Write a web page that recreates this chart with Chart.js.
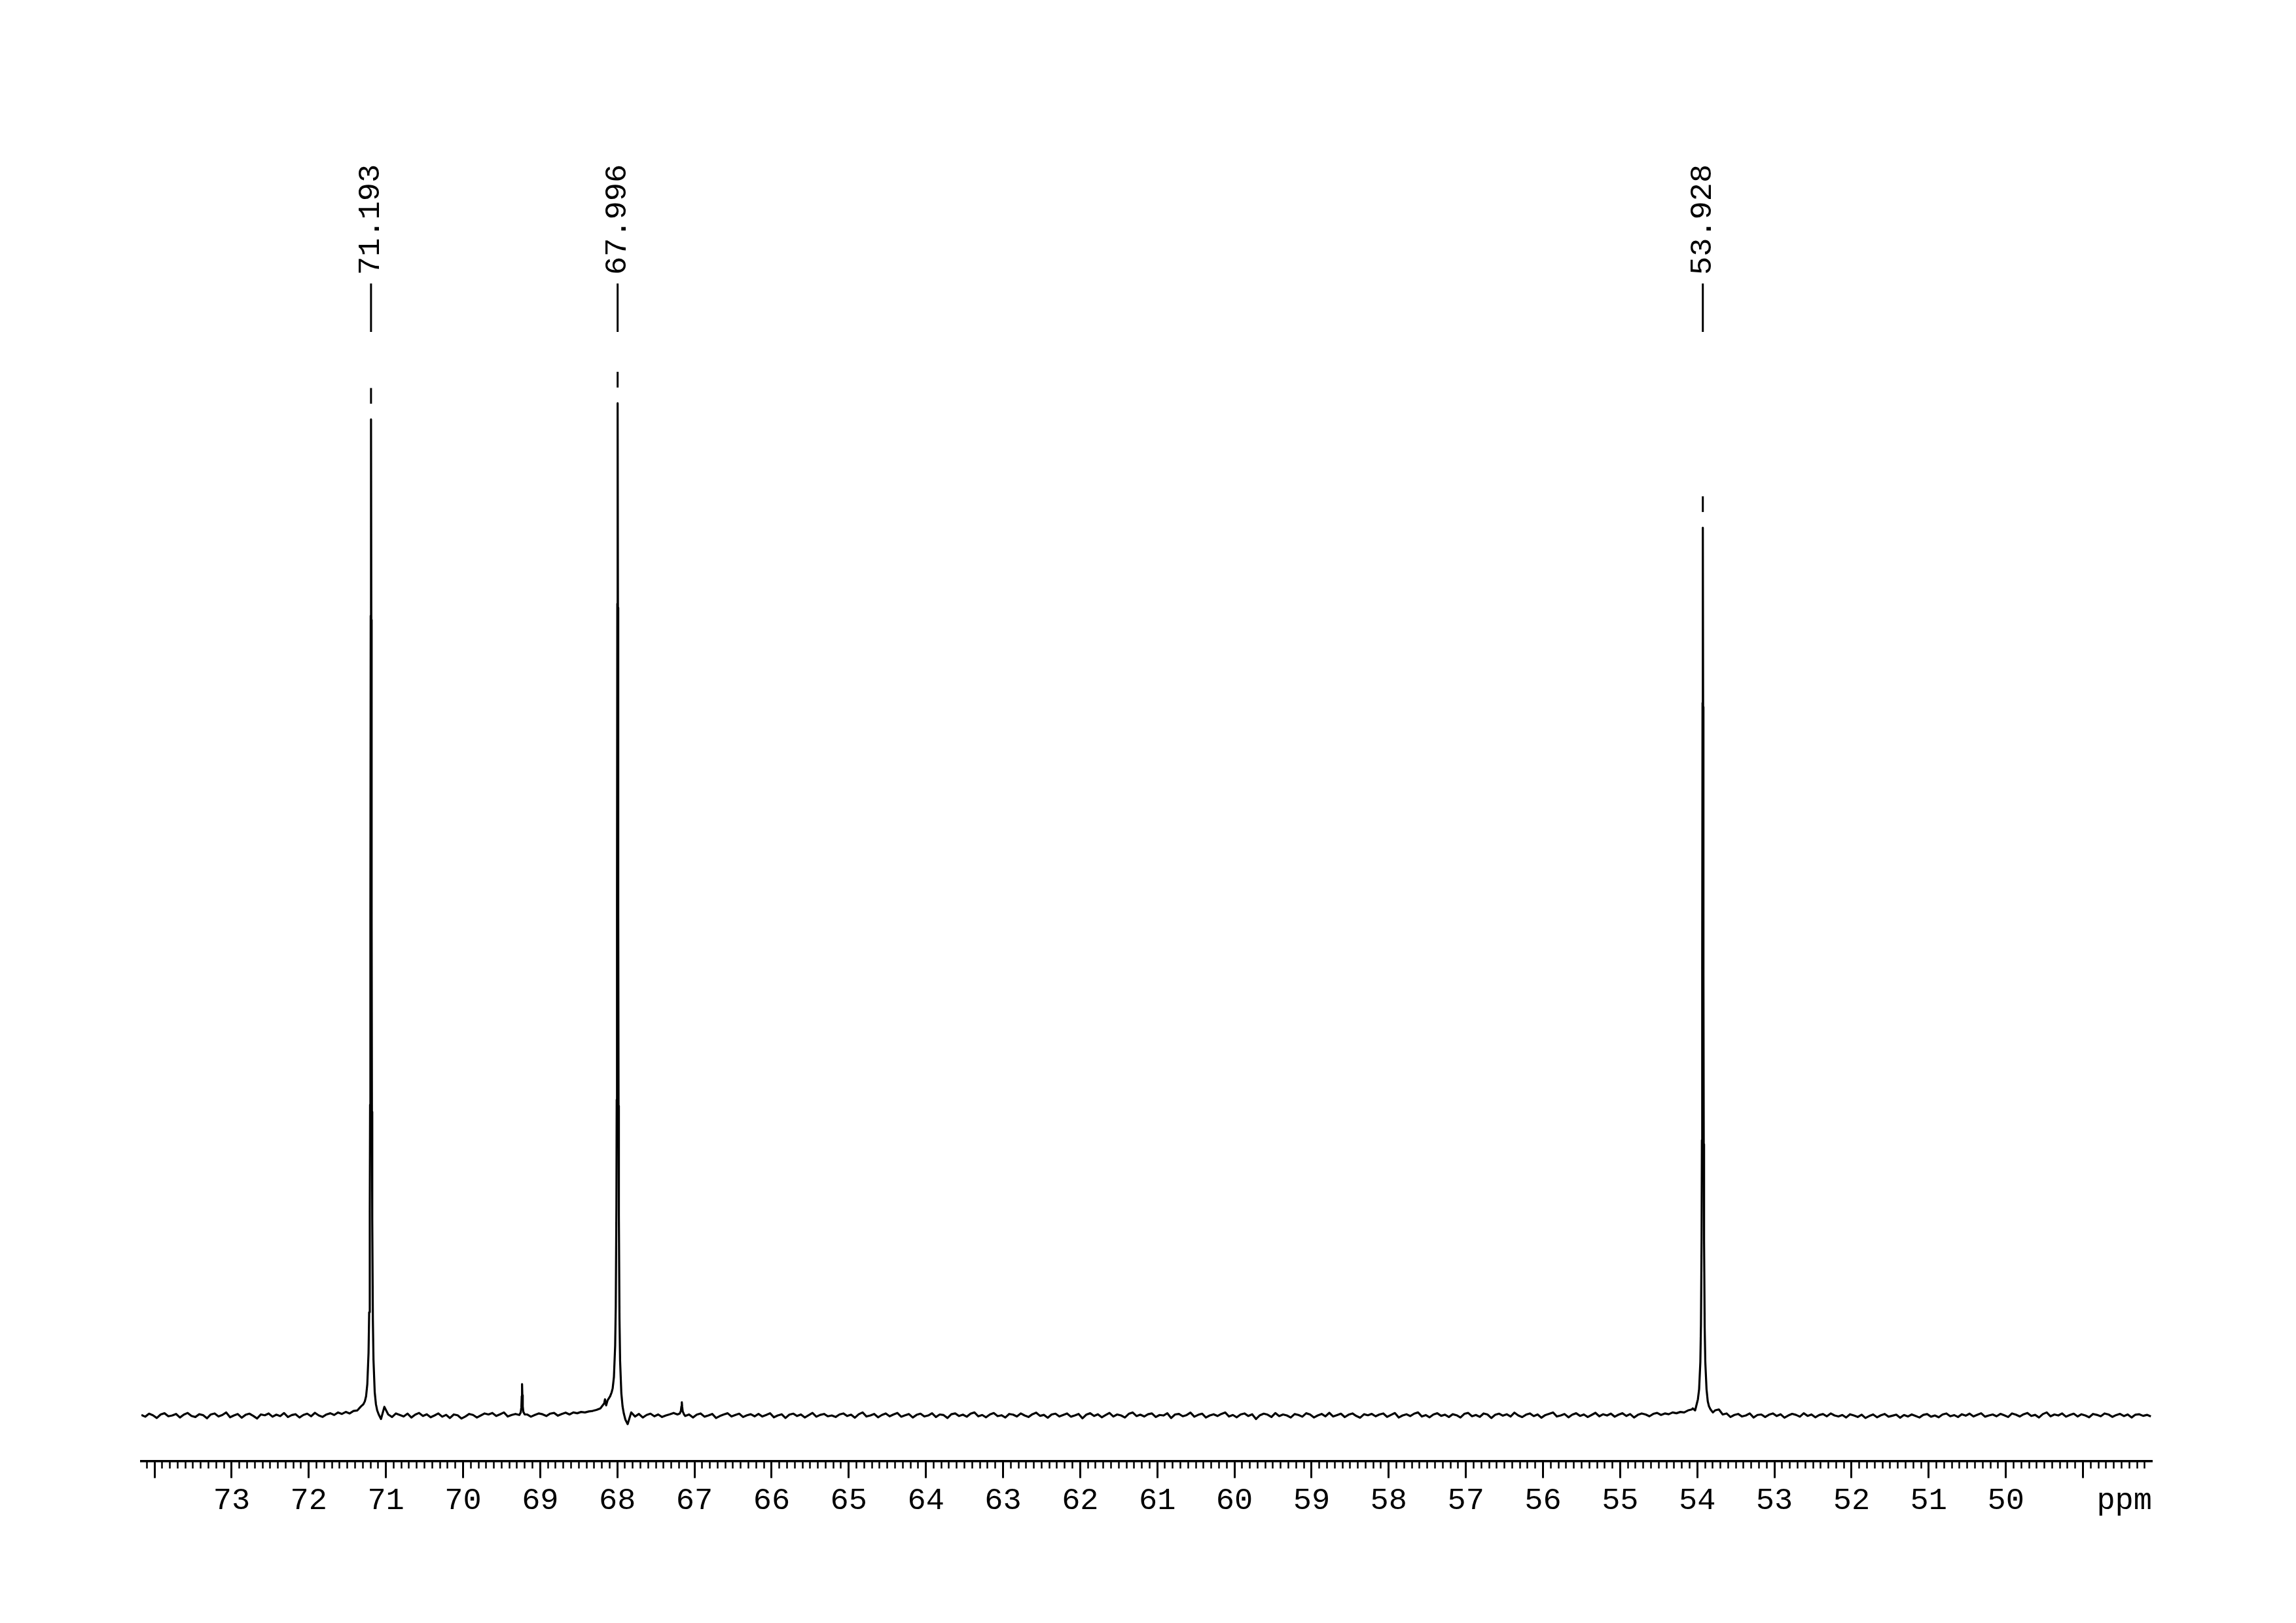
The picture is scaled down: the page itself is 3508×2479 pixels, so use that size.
<!DOCTYPE html>
<html>
<head>
<meta charset="utf-8">
<script src="https://cdn.jsdelivr.net/npm/chart.js@4.4.0/dist/chart.umd.min.js"></script>
<style>
  html, body { margin: 0; padding: 0; background: #fff; }
  canvas { display: block; }
</style>
</head>
<body>
<canvas id="spectrum" width="3508" height="2479"></canvas>
<script>
// axis range (ppm, reversed) and intensity range (67.996 peak = 100)
var X_MAX = 74.17, X_MIN = 48.105;
var Y_MIN = -4.5, Y_MAX = 126.9;

var majorTicks = [49, 50, 51, 52, 53, 54, 55, 56, 57, 58, 59, 60, 61, 62, 63, 64, 65, 66, 67, 68, 69, 70, 71, 72, 73, 74];
var tickLabels = ['50', '51', '52', '53', '54', '55', '56', '57', '58', '59', '60', '61', '62', '63', '64', '65', '66', '67', '68', '69', '70', '71', '72', '73'];
var peakLabels = [71.193, 67.996, 53.928];

// baseline read every 0.05 ppm, starting at 74.17 going upfield
var baseStart = 74.17, baseStep = 0.05;
var baseline = [
  0.05, -0.12, 0.18, 0.02, -0.25, 0.1, 0.22, -0.08, 0.0, 0.15, -0.2, 0.08, 0.25, -0.05, -0.15, 0.12, 0.03, -0.28, 0.1, 0.2,
  -0.1, 0.05, 0.3, -0.18, 0.0, 0.14, -0.22, 0.06, 0.18, -0.04, -0.3, 0.1, 0.02, 0.2, -0.12, 0.08, -0.06, 0.24, -0.15, 0.04,
  0.12, -0.2, 0.05, 0.18, -0.08, 0.26, 0.0, -0.14, 0.1, 0.22, 0.05, 0.3, 0.15, 0.35, 0.2, 0.45, 0.5, 0.9, 1.4, 4.5,
  14.0, 1.2, -0.3, 0.85, 0.1, -0.15, 0.2, 0.05, -0.1, 0.18, -0.2, 0.08, 0.25, -0.05, 0.12, -0.18, 0.0, 0.2, -0.12, 0.06,
  -0.25, 0.1, 0.02, -0.3, -0.1, 0.15, 0.05, -0.2, 0.0, 0.2, 0.1, 0.25, -0.05, 0.12, 0.3, -0.1, 0.05, 0.15, 0.1, 2.4,
  0.1, -0.12, 0.05, 0.2, 0.12, -0.05, 0.18, 0.25, -0.02, 0.15, 0.28, 0.1, 0.3, 0.22, 0.35, 0.3, 0.4, 0.45, 0.55, 0.7,
  1.2, 1.6, 2.3, 10.5, 9.0, 0.2, -0.8, 0.3, -0.1, 0.15, -0.2, 0.05, 0.18, -0.08, 0.1, -0.15, 0.0, 0.12, 0.25, 0.1,
  0.8, -0.05, 0.1, -0.2, 0.08, 0.2, -0.12, 0.0, 0.15, -0.25, -0.05, 0.1, 0.22, -0.1, 0.05, 0.18, -0.15, 0.02, 0.12, -0.08,
  0.15, -0.1, 0.05, 0.22, -0.18, 0.0, 0.12, -0.25, 0.08, 0.18, -0.05, 0.1, -0.2, 0.02, 0.25, -0.12, 0.06, 0.15, -0.08, 0.0,
  -0.15, 0.1, 0.2, -0.05, 0.08, -0.22, 0.12, 0.3, -0.1, 0.0, 0.15, -0.18, 0.05, 0.2, -0.08, 0.1, 0.25, -0.12, 0.02, 0.14,
  -0.2, 0.06, 0.18, -0.1, 0.0, 0.22, -0.15, 0.1, 0.04, -0.25, 0.12, 0.2, -0.05, 0.08, -0.12, 0.18, 0.3, -0.08, 0.05, -0.18,
  0.1, 0.24, -0.06, 0.02, -0.2, 0.15, 0.08, -0.1, 0.2, 0.0, -0.15, 0.12, 0.28, -0.04, 0.06, -0.22, 0.1, 0.18, -0.1, 0.05,
  0.2, -0.12, 0.0, 0.15, -0.28, 0.08, 0.22, -0.05, 0.12, -0.18, 0.04, 0.25, -0.1, 0.1, 0.0, -0.2, 0.16, 0.3, -0.06, 0.08,
  -0.1, 0.12, 0.2, -0.15, 0.05, 0.0, 0.22, -0.25, 0.1, 0.16, -0.08, 0.04, 0.28, -0.12, 0.06, 0.18, -0.2, 0.0, 0.12, -0.05,
  0.15, 0.3, -0.1, 0.05, -0.18, 0.1, 0.2, -0.05, 0.12, -0.35, 0.02, 0.18, 0.08, -0.15, 0.24, -0.06, 0.1, 0.0, -0.2, 0.14,
  0.05, -0.12, 0.22, 0.1, -0.2, 0.0, 0.15, -0.08, 0.26, -0.1, 0.04, 0.18, -0.16, 0.08, 0.2, -0.05, -0.22, 0.12, 0.02, 0.16,
  -0.08, 0.1, 0.2, -0.14, 0.06, 0.24, -0.2, 0.0, 0.12, -0.06, 0.18, 0.3, -0.1, 0.04, -0.18, 0.1, 0.22, -0.04, 0.08, -0.15,
  0.12, 0.02, -0.2, 0.16, 0.25, -0.08, 0.05, -0.14, 0.2, 0.1, -0.25, 0.06, 0.18, -0.02, 0.12, -0.1, 0.28, 0.0, -0.16, 0.08,
  0.2, -0.06, 0.1, -0.22, 0.04, 0.16, 0.3, -0.1, 0.0, 0.14, -0.18, 0.08, 0.22, -0.04, 0.1, -0.15, 0.05, 0.26, -0.08, 0.12,
  0.0, 0.18, -0.12, 0.08, 0.22, -0.05, 0.14, -0.2, 0.06, 0.2, 0.1, -0.08, 0.16, 0.25, 0.05, 0.2, 0.12, 0.3, 0.22, 0.35,
  0.3, 0.5, 0.6, 0.7, 2.3, 43.0, 1.9, 0.7, 0.5, 0.6, 0.1, 0.2, -0.15, 0.05, 0.15, -0.1, 0.0, 0.2, -0.2, 0.05,
  0.1, -0.15, 0.08, 0.2, -0.05, 0.12, -0.22, 0.0, 0.16, 0.06, -0.12, 0.22, -0.04, 0.1, -0.18, 0.04, 0.14, -0.08, 0.2, 0.0,
  -0.1, 0.05, -0.2, 0.12, 0.0, -0.15, 0.08, -0.25, -0.05, 0.1, -0.18, 0.02, 0.15, -0.12, -0.02, 0.08, -0.22, 0.05, -0.1, 0.1,
  -0.05, -0.2, 0.06, 0.14, -0.12, 0.0, -0.18, 0.1, 0.2, -0.08, 0.04, -0.15, 0.12, -0.02, 0.18, -0.1, 0.06, 0.22, -0.12, 0.0,
  0.1, -0.08, 0.16, 0.02, -0.15, 0.2, 0.08, -0.1, 0.12, 0.25, -0.05, 0.06, -0.2, 0.14, 0.3, -0.08, 0.1, 0.0, 0.2, -0.12,
  0.05, 0.18, -0.1, 0.12, 0.0, -0.18, 0.15, 0.06, -0.08, 0.2, 0.1, -0.14, 0.04, 0.16, -0.06, 0.1, -0.2, 0.08, 0.12, -0.04,
  0.06, -0.1
];

// finer reads around each line: [ppm, intensity]
var peak71 = [[71.323, 0.9], [71.293, 1.1], [71.273, 1.4], [71.257, 1.9], [71.241, 3.1], [71.225, 6.2], [71.217, 10.2],
  [71.209, 20.1], [71.205, 30.7], [71.201, 49.6], [71.197, 79.0], [71.193, 98.4], [71.189, 78.6], [71.185, 49.0],
  [71.181, 30.0], [71.177, 19.4], [71.169, 9.5], [71.161, 5.5], [71.145, 2.3], [71.129, 1.1], [71.113, 0.5],
  [71.093, 0.1], [71.063, -0.35]];
var peak69 = [[69.27, 0.05], [69.252, 0.3], [69.244, 0.8], [69.239, 1.9], [69.235, 3.1], [69.231, 2.0], [69.226, 0.9],
  [69.218, 0.35], [69.2, 0.1]];
var peak68 = [[68.16, 1.6], [68.145, 1.0], [68.126, 1.5], [68.093, 1.9], [68.073, 2.3], [68.06, 2.7], [68.044, 3.8],
  [68.028, 6.9], [68.02, 10.8], [68.012, 20.6], [68.008, 31.2], [68.004, 50.3], [68.0, 80.2], [67.996, 100.0],
  [67.992, 79.8], [67.988, 49.8], [67.984, 30.6], [67.98, 19.8], [67.972, 9.6], [67.964, 5.4], [67.948, 2.2],
  [67.932, 0.9], [67.916, 0.2], [67.896, -0.4], [67.866, -0.85]];
var peak67 = [[67.19, 0.2], [67.176, 0.45], [67.169, 0.9], [67.164, 1.3], [67.159, 0.85], [67.152, 0.4], [67.135, 0.1]];
var peak54 = [[54.058, 0.7], [54.028, 0.5], [54.008, 1.1], [53.992, 1.6], [53.976, 2.6], [53.96, 5.3], [53.952, 9.0],
  [53.944, 17.6], [53.94, 27.2], [53.936, 44.1], [53.932, 70.4], [53.928, 87.7], [53.924, 70.0], [53.92, 43.7],
  [53.916, 26.8], [53.912, 17.3], [53.904, 8.7], [53.896, 5.3], [53.88, 2.6], [53.864, 1.4], [53.848, 0.9],
  [53.828, 0.6], [53.798, 0.3]];

var segments = [peak71, peak69, peak68, peak67, peak54];
var labelledPeaks = [peak71, peak68, peak54];

// merge: coarse baseline outside the peak windows + fine peak reads
var points = [];
baseline.forEach(function (v, i) {
  var x = +(baseStart - i * baseStep).toFixed(3);
  var inside = segments.some(function (s) { return x <= s[0][0] && x >= s[s.length - 1][0]; });
  if (!inside) points.push({x: x, y: v});
});
segments.forEach(function (s) {
  s.forEach(function (p) { points.push({x: p[0], y: p[1]}); });
});
points.sort(function (a, b) { return b.x - a.x; });

var minorTicks = [];
for (var t = 482; t <= 741; t++) minorTicks.push({value: t / 10});

var FONT = '"Liberation Mono", "DejaVu Sans Mono", monospace';

var peakMarks = {
  id: 'peakMarks',
  afterDraw: function (chart) {
    var c = chart.ctx;
    var xs = chart.scales.x, ys = chart.scales.y;
    var top = chart.chartArea.top;
    var vline = function (x, y1, y2) {
      c.beginPath(); c.moveTo(x, y1); c.lineTo(x, y2); c.stroke();
    };
    c.save();
    c.strokeStyle = '#000';
    c.fillStyle = '#000';
    c.lineWidth = 3;
    c.font = '47px ' + FONT;
    peakLabels.forEach(function (ppm, i) {
      var x = xs.getPixelForValue(ppm);
      var h = Math.max.apply(null, labelledPeaks[i].map(function (p) { return p[1]; }));
      var peakTop = ys.getPixelForValue(h);
      c.save();
      c.translate(x, top + 220);
      c.rotate(-Math.PI / 2);
      c.textAlign = 'left';
      c.textBaseline = 'middle';
      c.fillText(ppm.toFixed(3), 0, 0);
      c.restore();
      vline(x, top + 233, top + 307);
      vline(x, peakTop - 48, peakTop - 24);
    });
    c.textAlign = 'right';
    c.textBaseline = 'middle';
    c.fillText('ppm', xs.right, xs.top + 26 + 7 + 47 * 1.2 / 2);
    c.restore();
  }
};

var ctx = document.getElementById('spectrum');
var chart = new Chart(ctx, {
  type: 'line',
  data: {
    datasets: [{
      data: points,
      borderColor: '#000',
      borderWidth: 3.2,
      borderJoinStyle: 'round',
      pointRadius: 0,
      tension: 0,
      fill: false
    }]
  },
  options: {
    responsive: false,
    animation: false,
    events: [],
    layout: { padding: { left: 216, right: 220, top: 200, bottom: 151 } },
    plugins: { legend: { display: false }, tooltip: { enabled: false } },
    scales: {
      x: {
        type: 'linear',
        min: X_MIN,
        max: X_MAX,
        reverse: true,
        bounds: 'data',
        afterBuildTicks: function (scale) {
          scale.ticks = majorTicks.map(function (v) { return {value: v}; });
        },
        ticks: {
          autoSkip: false,
          maxRotation: 0,
          padding: 7,
          color: '#000',
          font: { family: FONT, size: 47, lineHeight: 1.2 },
          callback: function (v) { return tickLabels.indexOf(String(v)) >= 0 ? String(v) : ''; }
        },
        grid: { drawOnChartArea: false, tickLength: 26, tickWidth: 3, tickColor: '#000' },
        border: { display: true, width: 3.5, color: '#000' }
      },
      xMinor: {
        type: 'linear',
        axis: 'x',
        position: { y: Y_MIN },
        min: X_MIN,
        max: X_MAX,
        reverse: true,
        bounds: 'data',
        afterBuildTicks: function (scale) { scale.ticks = minorTicks.slice(); },
        ticks: { display: false },
        grid: { drawOnChartArea: false, tickLength: 11, tickWidth: 2.5, tickColor: '#000' },
        border: { display: false }
      },
      y: { display: false, min: Y_MIN, max: Y_MAX }
    }
  },
  plugins: [peakMarks]
});
</script>
</body>
</html>
